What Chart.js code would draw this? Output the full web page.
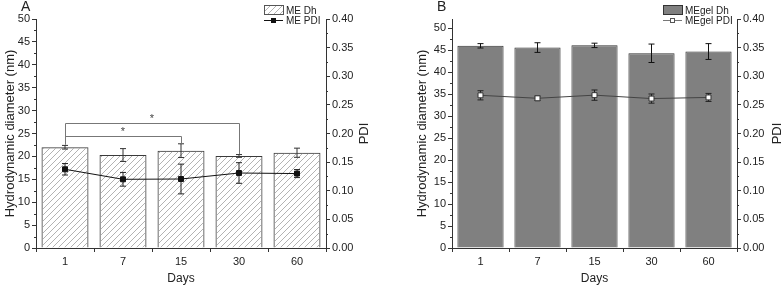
<!DOCTYPE html>
<html>
<head>
<meta charset="utf-8">
<script src="https://cdn.jsdelivr.net/npm/chart.js@4.4.1/dist/chart.umd.min.js"></script>
<style>
  body { margin: 0; background: #fff; }
  .panel { position: absolute; top: 0; width: 392px; height: 285px; }
</style>
</head>
<body>
<div class="panel" style="left:0"><canvas id="chartA" width="392" height="285"></canvas></div>
<div class="panel" style="left:392px"><canvas id="chartB" width="392" height="285"></canvas></div>
<script>
const days = ['1', '7', '15', '30', '60'];

// panel A - ME
const meDh = [22.0, 20.3, 21.25, 20.1, 20.8];
const meDhErr = [0.4, 1.4, 1.5, 0.3, 1.0];
const mePdi = [0.1375, 0.120, 0.1205, 0.131, 0.130];
const mePdiErr = [0.010, 0.012, 0.026, 0.018, 0.007];

// panel B - MEgel
const gelDh = [46.0, 45.6, 46.1, 44.3, 44.7];
const gelDhErr = [0.5, 1.1, 0.5, 2.1, 1.8];
const gelPdi = [0.2667, 0.2615, 0.267, 0.261, 0.263];
const gelPdiErr = [0.008, 0.004, 0.009, 0.008, 0.007];

// significance brackets for A: from day index, to day index, bracket level, leg ends (nm)
const sigFrom = [0, 0];
const sigTo = [3, 2];
const sigLevel = [27.3, 24.5];
const sigLegA = [22.6, 22.6];
const sigLegB = [20.5, 22.8];

Chart.defaults.font.family = "'Liberation Sans', Arial, sans-serif";
Chart.defaults.color = '#222';

function makeHatch(ctx) {
  const c = document.createElement('canvas');
  c.width = 6; c.height = 6;
  const g = c.getContext('2d');
  g.strokeStyle = '#a0a0a0';
  g.lineWidth = 0.8;
  g.beginPath();
  g.moveTo(0, 6); g.lineTo(6, 0);
  g.moveTo(-1, 1); g.lineTo(1, -1);
  g.moveTo(5, 7); g.lineTo(7, 5);
  g.stroke();
  return ctx.createPattern(c, 'repeat');
}

function drawErr(ctx, x, yHi, yLo, color) {
  ctx.save();
  ctx.strokeStyle = color;
  ctx.lineWidth = 1;
  ctx.beginPath();
  ctx.moveTo(x, yHi); ctx.lineTo(x, yLo);
  ctx.moveTo(x - 3, yHi); ctx.lineTo(x + 3, yHi);
  ctx.moveTo(x - 3, yLo); ctx.lineTo(x + 3, yLo);
  ctx.stroke();
  ctx.restore();
}

const decoPlugin = {
  id: 'deco',
  afterDatasetDraw(chart, args, o) {
    if (args.index !== 0) return;
    const y = chart.scales.y;
    const data = chart.data.datasets[0].data;
    args.meta.data.forEach((bar, i) => {
      drawErr(chart.ctx, bar.x, y.getPixelForValue(data[i] + o.barErr[i]),
        y.getPixelForValue(data[i] - o.barErr[i]), o.barErrColor);
    });
  },
  beforeDatasetDraw(chart, args, o) {
    if (args.index !== 1) return;
    const y1 = chart.scales.y1;
    const data = chart.data.datasets[1].data;
    args.meta.data.forEach((pt, i) => {
      drawErr(chart.ctx, pt.x, y1.getPixelForValue(data[i] + o.lineErr[i]),
        y1.getPixelForValue(data[i] - o.lineErr[i]), o.lineErrColor);
    });
  },
  afterDraw(chart, args, o) {
    const ctx = chart.ctx;
    const {x, y, y1} = chart.scales;
    const area = chart.chartArea;
    ctx.save();
    // minor ticks
    ctx.strokeStyle = '#333';
    ctx.lineWidth = 1;
    ctx.beginPath();
    for (let v = 2.5; v < y.max; v += 5) {
      const py = Math.round(y.getPixelForValue(v)) + 0.5;
      ctx.moveTo(area.left, py); ctx.lineTo(area.left - 2, py);
    }
    for (let v = 0.025; v < y1.max; v += 0.05) {
      const py = Math.round(y1.getPixelForValue(v)) + 0.5;
      ctx.moveTo(area.right, py); ctx.lineTo(area.right + 2, py);
    }
    ctx.stroke();

    // right axis title (reads bottom to top)
    ctx.save();
    ctx.translate(o.pdiX, (area.top + area.bottom) / 2);
    ctx.rotate(-Math.PI / 2);
    ctx.font = "13px 'Liberation Sans', Arial, sans-serif";
    ctx.fillStyle = '#222';
    ctx.textAlign = 'center';
    ctx.textBaseline = 'middle';
    ctx.fillText('PDI', 0, 0);
    ctx.restore();

    // panel letter
    ctx.font = "14px 'Liberation Sans', Arial, sans-serif";
    ctx.fillStyle = '#222';
    ctx.textAlign = 'left';
    ctx.textBaseline = 'alphabetic';
    ctx.fillText(o.letter, o.letterX, 11);

    // legend
    const lx = o.legX;
    ctx.fillStyle = o.boxFill;
    ctx.fillRect(lx, 5, 19, 9);
    ctx.strokeStyle = o.boxEdge;
    ctx.strokeRect(lx + 0.5, 5.5, 19, 9);
    ctx.strokeStyle = o.lineColor;
    ctx.beginPath();
    ctx.moveTo(lx, 20.5); ctx.lineTo(lx + 19, 20.5);
    ctx.stroke();
    ctx.fillStyle = o.markFill;
    ctx.fillRect(lx + 7, 18, 5, 5);
    ctx.strokeStyle = o.markEdge;
    ctx.strokeRect(lx + 7.5, 18.5, 4, 4);
    ctx.font = "10px 'Liberation Sans', Arial, sans-serif";
    ctx.fillStyle = '#222';
    ctx.fillText(o.names[0], lx + 22, 13.5);
    ctx.fillText(o.names[1], lx + 22, 24);

    // significance brackets
    if (o.sig) {
      ctx.strokeStyle = '#777';
      ctx.beginPath();
      sigFrom.forEach((f, i) => {
        const xa = Math.round(x.getPixelForValue(f)) + 0.5;
        const xb = Math.round(x.getPixelForValue(sigTo[i])) + 0.5;
        const yl = Math.round(y.getPixelForValue(sigLevel[i])) + 0.5;
        ctx.moveTo(xa, y.getPixelForValue(sigLegA[i]));
        ctx.lineTo(xa, yl); ctx.lineTo(xb, yl);
        ctx.lineTo(xb, y.getPixelForValue(sigLegB[i]));
      });
      ctx.stroke();
      ctx.fillStyle = '#444';
      ctx.textAlign = 'center';
      ctx.font = "11px 'Liberation Sans', Arial, sans-serif";
      sigFrom.forEach((f, i) => {
        const xm = (x.getPixelForValue(f) + x.getPixelForValue(sigTo[i])) / 2;
        ctx.fillText('*', xm, y.getPixelForValue(sigLevel[i]) - 1);
      });
    }
    ctx.restore();
  }
};

function axisGrid() {
  return { drawOnChartArea: false, drawTicks: true, tickLength: 4, color: '#333', tickColor: '#333' };
}

function makeScales(o) {
  return {
    x: {
      offset: true,
      grid: axisGrid(),
      border: { color: '#333' },
      ticks: { color: '#222', font: { size: 11 }, padding: 3, maxRotation: 0 },
      title: { display: true, text: 'Days', color: '#222', font: { size: 12, lineHeight: 1 }, padding: { top: 0, bottom: 0 } },
      afterFit: s => { s.height = 37; }
    },
    y: {
      position: 'left',
      min: 0,
      max: o.dhMax,
      grid: axisGrid(),
      border: { color: '#333' },
      ticks: { stepSize: 5, includeBounds: false, color: '#222', font: { size: 11 }, padding: 2 },
      title: { display: true, text: 'Hydrodynamic diameter (nm)', color: '#222', font: { size: 13, lineHeight: 1 }, padding: { top: o.titlePad, bottom: 0 } },
      afterFit: s => { s.width = o.leftW; }
    },
    y1: {
      position: 'right',
      min: 0,
      max: 0.4,
      grid: axisGrid(),
      border: { color: '#333' },
      ticks: { stepSize: 0.05, color: '#222', font: { size: 11 }, padding: 2, callback: v => v.toFixed(2) },
      afterFit: s => { s.width = o.rightW; }
    }
  };
}

const ctxA = document.getElementById('chartA').getContext('2d');
const hatch = makeHatch(ctxA);

new Chart(ctxA, {
  type: 'bar',
  data: {
    labels: days,
    datasets: [
      {
        type: 'bar',
        label: 'ME Dh',
        data: meDh,
        yAxisID: 'y',
        backgroundColor: hatch,
        borderColor: '#3a3a3a',
        borderWidth: 1,
        categoryPercentage: 0.81,
        barPercentage: 1,
        order: 1
      },
      {
        type: 'line',
        label: 'ME PDI',
        data: mePdi,
        yAxisID: 'y1',
        borderColor: '#111',
        borderWidth: 1,
        tension: 0,
        pointStyle: 'rect',
        pointRadius: 3.5,
        pointBackgroundColor: '#111',
        pointBorderColor: '#111',
        pointBorderWidth: 1,
        order: 0
      }
    ]
  },
  options: {
    responsive: false,
    animation: false,
    events: [],
    layout: { padding: { top: 19, left: 0, right: 0, bottom: 0 } },
    plugins: {
      legend: { display: false },
      tooltip: { enabled: false },
      deco: {
        barErr: meDhErr, lineErr: mePdiErr,
        barErrColor: '#333', lineErrColor: '#222',
        pdiX: 364, letter: 'A', letterX: 21, legX: 264,
        boxFill: hatch, boxEdge: '#555', lineColor: '#111', markFill: '#111', markEdge: '#111',
        names: ['ME Dh', 'ME PDI'], sig: true
      }
    },
    scales: makeScales({ dhMax: 50, leftW: 36, rightW: 66, titlePad: 3.5 })
  },
  plugins: [decoPlugin]
});

new Chart(document.getElementById('chartB'), {
  type: 'bar',
  data: {
    labels: days,
    datasets: [
      {
        type: 'bar',
        label: 'MEgel Dh',
        data: gelDh,
        yAxisID: 'y',
        backgroundColor: '#808080',
        borderColor: '#333',
        borderWidth: 1,
        categoryPercentage: 0.81,
        barPercentage: 1,
        order: 1
      },
      {
        type: 'line',
        label: 'MEgel PDI',
        data: gelPdi,
        yAxisID: 'y1',
        borderColor: '#444',
        borderWidth: 1,
        tension: 0,
        pointStyle: 'rect',
        pointRadius: 3.5,
        pointBackgroundColor: '#fff',
        pointBorderColor: '#333',
        pointBorderWidth: 1,
        order: 0
      }
    ]
  },
  options: {
    responsive: false,
    animation: false,
    events: [],
    layout: { padding: { top: 19, left: 0, right: 0, bottom: 0 } },
    plugins: {
      legend: { display: false },
      tooltip: { enabled: false },
      deco: {
        barErr: gelDhErr, lineErr: gelPdiErr,
        barErrColor: '#111', lineErrColor: '#222',
        pdiX: 385, letter: 'B', letterX: 45, legX: 271,
        boxFill: '#808080', boxEdge: '#333', lineColor: '#777', markFill: '#fff', markEdge: '#555',
        names: ['MEgel Dh', 'MEgel PDI'], sig: false
      }
    },
    scales: makeScales({ dhMax: 52.1, leftW: 60, rightW: 47, titlePad: 23.5 })
  },
  plugins: [decoPlugin]
});
</script>
</body>
</html>
